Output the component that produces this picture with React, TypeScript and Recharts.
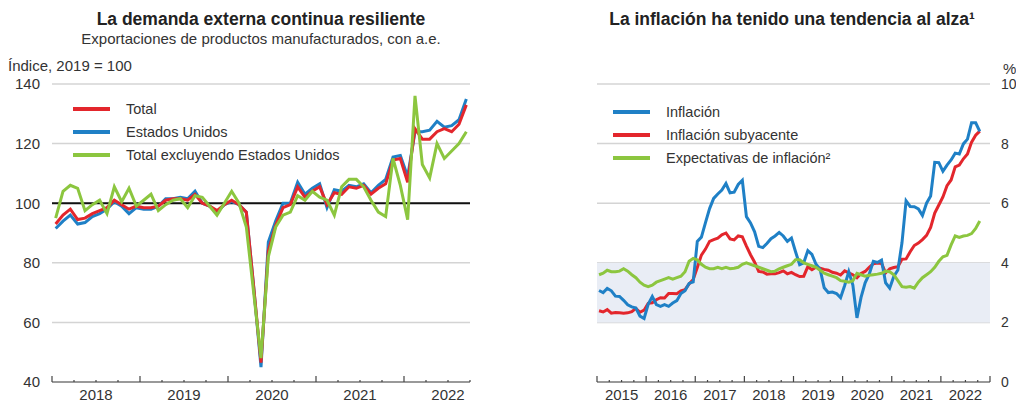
import {
  LineChart,
  Line,
  XAxis,
  YAxis,
  CartesianGrid,
  ReferenceLine,
  ReferenceArea,
  Legend,
} from "recharts";

const FONT = '"Liberation Sans", Arial, Helvetica, sans-serif';
const RED = "#e3262c";
const BLUE = "#1f80c6";
const GREEN = "#8cc63f";

// Left panel: monthly, Jan 2018 - Sep 2022 (index 2019 = 100)
const exportTotal = [
  93, 96, 98, 94.5, 95, 96.5, 97.5, 98.5, 101, 99.5,
  98, 99, 98.5, 98.5, 99, 101, 101.5, 101.5, 101, 103,
  100, 99, 97.5, 99.5, 101, 99.5, 97, 72, 46.5, 84,
  92.5, 98.5, 99.5, 105.5, 102, 104, 105.5, 99.5, 103.5, 103,
  105.5, 105, 106, 103, 105, 106.5, 114.5, 115, 107, 125,
  121.5, 121.5, 124, 125, 124, 126.5, 133,
];
const exportEEUU = [
  91.5, 94, 96, 93, 93.5, 95.5, 96.5, 98, 100.5, 99,
  96.5, 98.5, 98, 98, 99, 101.5, 101.5, 102, 101.5, 104,
  100, 99, 97, 99.5, 100.5, 99.5, 97, 72, 45, 87,
  94, 100, 100, 107, 103, 105, 106.5, 98.5, 104.5, 104,
  106, 105.5, 106.5, 103.5, 106, 108, 115.5, 116, 109, 124,
  124, 124.5, 127.5, 125.5, 126, 128, 135,
];
const exportSinEEUU = [
  95, 104, 106, 105, 97.5, 99.5, 101, 96.5, 105.5, 100.5,
  105, 99, 101, 103, 97.5, 99.5, 101, 101.5, 98.5, 102.5,
  102, 99, 96, 100, 104, 100, 92, 70, 48, 82,
  92, 96, 97, 102.5, 101, 104, 102, 101, 96, 105.5,
  108, 108, 105.5, 101, 97, 95.5, 115, 106, 94.5, 136,
  113, 108.5, 120, 115, 117.5, 120, 124,
];
const exportYears = ["2018", "2019", "2020", "2021", "2022"];
const exportYTicks = [40, 60, 80, 100, 120, 140];

// Right panel: monthly, Jan 2015 - Oct 2022 (%)
const inflacion = [
  3.07, 3.0, 3.14, 3.06, 2.88, 2.87, 2.74, 2.59, 2.52, 2.48, 2.21, 2.13,
  2.61, 2.87, 2.6, 2.54, 2.6, 2.54, 2.65, 2.73, 2.97, 3.06, 3.31, 3.36,
  4.72, 4.86, 5.35, 5.82, 6.16, 6.31, 6.44, 6.66, 6.35, 6.37, 6.63, 6.77,
  5.55, 5.34, 5.04, 4.55, 4.51, 4.65, 4.81, 4.9, 5.02, 4.9, 4.72, 4.83,
  4.37, 3.94, 4.0, 4.41, 4.28, 3.95, 3.78, 3.16, 3.0, 3.02, 2.97, 2.83,
  3.24, 3.7, 3.25, 2.15, 2.84, 3.33, 3.62, 4.05, 4.01, 4.09, 3.33, 3.15,
  3.54, 3.76, 4.67, 6.08, 5.89, 5.88, 5.81, 5.59, 6.0, 6.24, 7.37, 7.36,
  7.07, 7.28, 7.45, 7.68, 7.65, 7.99, 8.15, 8.7, 8.7, 8.41,
];
const subyacente = [
  2.39, 2.35, 2.43, 2.31, 2.33, 2.32, 2.31, 2.32, 2.36, 2.47, 2.34, 2.41,
  2.64, 2.66, 2.76, 2.83, 2.82, 2.97, 2.97, 2.96, 3.06, 3.1, 3.29, 3.44,
  3.84, 4.26, 4.46, 4.72, 4.78, 4.83, 4.94, 5.0, 4.8, 4.77, 4.9, 4.87,
  4.56, 4.27, 4.02, 3.71, 3.69, 3.62, 3.63, 3.63, 3.67, 3.73, 3.63, 3.68,
  3.6, 3.54, 3.55, 3.87, 3.77, 3.85, 3.82, 3.78, 3.75, 3.68, 3.65, 3.59,
  3.73, 3.66, 3.6, 3.5, 3.64, 3.71, 3.85, 3.97, 3.99, 3.98, 3.66, 3.8,
  3.84, 3.87, 4.12, 4.13, 4.37, 4.58, 4.66, 4.78, 4.92, 5.19, 5.67, 5.94,
  6.21, 6.59, 6.78, 7.22, 7.28, 7.49, 7.65, 8.05, 8.28, 8.42,
];
const expectativas = [
  3.6, 3.65, 3.75, 3.7, 3.7, 3.72, 3.8, 3.72, 3.6, 3.5, 3.35, 3.25,
  3.2, 3.25, 3.35, 3.4, 3.45, 3.5, 3.45, 3.5, 3.55, 3.7, 4.05, 4.15,
  4.1, 3.95, 3.85, 3.8, 3.8, 3.85, 3.8, 3.85, 3.8, 3.82, 3.85, 3.95,
  4.0, 3.95, 3.9, 3.85, 3.8, 3.75, 3.7, 3.72, 3.8, 3.85, 3.9, 3.95,
  4.1, 4.1, 4.0, 3.95, 3.9, 3.85, 3.75, 3.65, 3.6, 3.55, 3.5, 3.4,
  3.38, 3.35, 3.4, 3.65, 3.6, 3.55, 3.58, 3.6, 3.62, 3.65, 3.72, 3.7,
  3.6, 3.4, 3.2, 3.18, 3.2, 3.15, 3.35, 3.5, 3.6, 3.7, 3.85, 4.05,
  4.2, 4.25, 4.6, 4.9, 4.85, 4.9, 4.92, 4.98, 5.15, 5.4,
];
const inflYears = ["2015", "2016", "2017", "2018", "2019", "2020", "2021", "2022"];
const inflYTicks = [0, 2, 4, 6, 8, 10];

const exportData = exportTotal.map((v, i) => ({
  t: i + 0.5,
  total: v,
  eeuu: exportEEUU[i],
  resto: exportSinEEUU[i],
}));

const inflData = inflacion.map((v, i) => ({
  t: i + 0.5,
  inflacion: v,
  subyacente: subyacente[i],
  expectativas: expectativas[i],
}));

// quarter ticks on the time axis
const quarterTicks = (months: number) =>
  Array.from({ length: Math.floor(months / 3) + 1 }, (_, k) => k * 3);

const AXIS_Y = 382;

function timeTick(years: string[]) {
  return (props: any) => {
    const { x, payload } = props;
    const v = payload.value;
    const major = v % 12 === 0;
    const label = v % 12 === 6 ? years[(v - 6) / 12] : null;
    return (
      <g>
        <line
          x1={x}
          x2={x}
          y1={AXIS_Y}
          y2={AXIS_Y - (major ? 6 : 2)}
          stroke="#444"
          strokeWidth={1.2}
        />
        {label && (
          <text
            x={x}
            y={AXIS_Y + 18}
            textAnchor="middle"
            fontSize={15}
            fontFamily={FONT}
            fill="#333"
          >
            {label}
          </text>
        )}
      </g>
    );
  };
}

function yTick(x: number, anchor: "start" | "end", size: number) {
  return (props: any) => (
    <text
      x={x}
      y={props.y + size * 0.36}
      textAnchor={anchor}
      fontSize={size}
      fontFamily={FONT}
      fill="#333"
    >
      {props.payload.value}
    </text>
  );
}

type Item = { label: string; color: string };

function legendBox(items: Item[]) {
  return () => (
    <div style={{ fontFamily: FONT, fontSize: 14.5, color: "#333" }}>
      {items.map((it) => (
        <div
          key={it.label}
          style={{ display: "flex", alignItems: "center", height: 23 }}
        >
          <span
            style={{
              display: "inline-block",
              width: 37,
              height: 4,
              background: it.color,
              marginRight: 16,
            }}
          />
          <span>{it.label}</span>
        </div>
      ))}
    </div>
  );
}

const titleStyle: React.CSSProperties = {
  position: "absolute",
  fontFamily: FONT,
  fontWeight: "bold",
  fontSize: 17.5,
  color: "#222",
  whiteSpace: "nowrap",
  transform: "translateX(-50%)",
  lineHeight: 1,
};

const textStyle: React.CSSProperties = {
  position: "absolute",
  fontFamily: FONT,
  fontSize: 15,
  color: "#333",
  whiteSpace: "nowrap",
  lineHeight: 1,
};

export default function App() {
  const RIGHT_LEFT = 540;
  return (
    <div
      style={{
        position: "absolute",
        left: 0,
        top: 0,
        width: 1016,
        height: 402,
        background: "#fff",
        overflow: "hidden",
      }}
    >
      <div style={{ ...titleStyle, left: 261, top: 11 }}>
        La demanda externa continua resiliente
      </div>
      <div
        style={{ ...textStyle, left: 261, top: 31, transform: "translateX(-50%)" }}
      >
        Exportaciones de productos manufacturados, con a.e.
      </div>
      <div style={{ ...textStyle, left: 8, top: 58 }}>Índice, 2019 = 100</div>

      <div style={{ ...titleStyle, left: 792, top: 11 }}>
        La inflación ha tenido una tendencia al alza¹
      </div>
      <div style={{ ...textStyle, left: 1003, top: 61 }}>%</div>

      <div style={{ position: "absolute", left: 0, top: 0 }}>
        <LineChart
          width={500}
          height={402}
          data={exportData}
          margin={{ top: 84, right: 30, left: 0, bottom: 0 }}
        >
          <CartesianGrid vertical={false} stroke="#d4d4d4" strokeWidth={1.5} />
          <XAxis
            type="number"
            dataKey="t"
            domain={[0, 57]}
            ticks={quarterTicks(57)}
            interval={0}
            height={20}
            tickLine={false}
            axisLine={{ stroke: "#555", strokeWidth: 1.2 }}
            tick={timeTick(exportYears)}
          />
          <YAxis
            domain={[40, 140]}
            ticks={exportYTicks}
            width={52}
            axisLine={false}
            tickLine={false}
            tick={yTick(40, "end", 15)}
          />
          <ReferenceLine y={100} stroke="#111" strokeWidth={2} />
          <Line dataKey="eeuu" stroke={BLUE} strokeWidth={3} dot={false} isAnimationActive={false} />
          <Line dataKey="total" stroke={RED} strokeWidth={3} dot={false} isAnimationActive={false} />
          <Line dataKey="resto" stroke={GREEN} strokeWidth={3} dot={false} isAnimationActive={false} />
          <Legend
            layout="vertical"
            align="center"
            verticalAlign="middle"
            content={legendBox([
              { label: "Total", color: RED },
              { label: "Estados Unidos", color: BLUE },
              { label: "Total excluyendo Estados Unidos", color: GREEN },
            ])}
            wrapperStyle={{ position: "absolute", left: 73, top: 97, width: 320 }}
          />
        </LineChart>
      </div>

      <div style={{ position: "absolute", left: RIGHT_LEFT, top: 0 }}>
        <LineChart
          width={476}
          height={402}
          data={inflData}
          margin={{ top: 84, right: 0, left: 57, bottom: 0 }}
        >
          <ReferenceArea y1={2} y2={4} fill="#e9edf5" fillOpacity={1} stroke="none" />
          <CartesianGrid vertical={false} stroke="#d4d4d4" strokeWidth={1.5} />
          <XAxis
            type="number"
            dataKey="t"
            domain={[0, 96]}
            ticks={quarterTicks(96)}
            interval={0}
            height={20}
            tickLine={false}
            axisLine={{ stroke: "#555", strokeWidth: 1.2 }}
            tick={timeTick(inflYears)}
          />
          <YAxis
            orientation="right"
            domain={[0, 10]}
            ticks={inflYTicks}
            width={26}
            axisLine={false}
            tickLine={false}
            tick={yTick(1001 - RIGHT_LEFT, "start", 14)}
          />
          <Line dataKey="subyacente" stroke={RED} strokeWidth={3} dot={false} isAnimationActive={false} />
          <Line dataKey="inflacion" stroke={BLUE} strokeWidth={3} dot={false} isAnimationActive={false} />
          <Line dataKey="expectativas" stroke={GREEN} strokeWidth={3} dot={false} isAnimationActive={false} />
          <Legend
            layout="vertical"
            align="center"
            verticalAlign="middle"
            content={legendBox([
              { label: "Inflación", color: BLUE },
              { label: "Inflación subyacente", color: RED },
              { label: "Expectativas de inflación²", color: GREEN },
            ])}
            wrapperStyle={{ position: "absolute", left: 613 - RIGHT_LEFT, top: 100, width: 280 }}
          />
        </LineChart>
      </div>
    </div>
  );
}
